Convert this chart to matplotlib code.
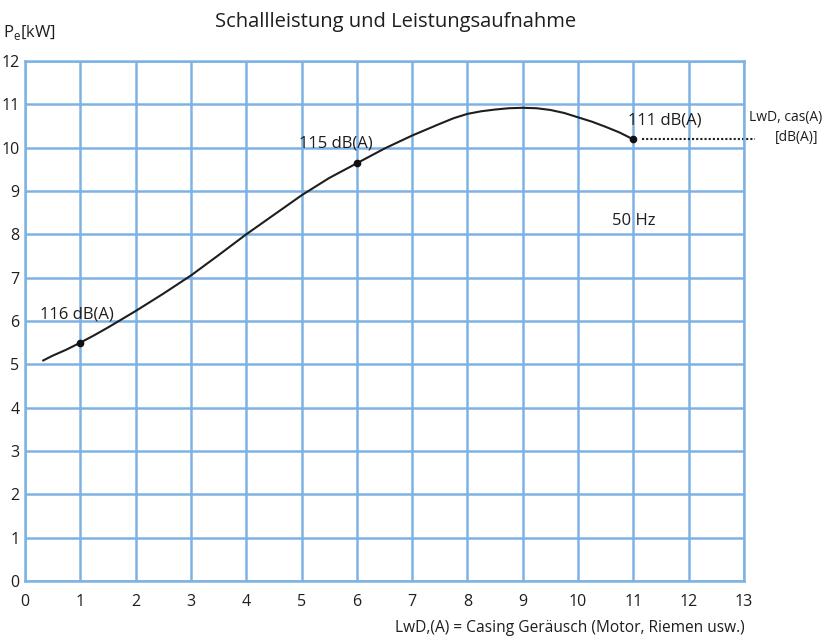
import numpy as np
import matplotlib
matplotlib.use('Agg')
import matplotlib.pyplot as plt

plt.rcParams['font.family'] = ['Open Sans', 'DejaVu Sans']

# curve (Pe in kW)
curve_x = [0.33, 0.5, 0.75, 1, 1.25, 1.5, 2, 2.5, 3, 3.5, 4, 4.5, 5, 5.5, 6,
           6.5, 7, 7.5, 7.75, 8, 8.25, 8.5, 8.75, 9, 9.25, 9.5, 9.75, 10,
           10.25, 10.5, 10.75, 11]
curve_y = [5.09, 5.2, 5.34, 5.5, 5.67, 5.85, 6.23, 6.63, 7.05, 7.52, 8.0,
           8.45, 8.9, 9.3, 9.64, 9.98, 10.28, 10.55, 10.68, 10.78, 10.84,
           10.88, 10.91, 10.92, 10.91, 10.87, 10.8, 10.7, 10.6, 10.48, 10.35,
           10.19]

# marked points and their sound power labels
mark_x = [1, 6, 11]
mark_y = [5.5, 9.64, 10.19]
mark_labels = ['116 dB(A)', '115 dB(A)', '111 dB(A)']
label_pos = [(0.94, 6.14), (5.62, 10.1), (11.57, 10.62)]

grid_blue = '#7eb2e4'
ink = '#1e1e1e'

fig = plt.figure(figsize=(8.23, 6.41), dpi=100)
ax = fig.add_axes([25 / 823, 60 / 641, 719 / 823, 520 / 641])

ax.set_xlim(0, 13)
ax.set_ylim(0, 12)
ax.set_xticks(range(0, 14))
ax.set_yticks(range(0, 13))
ax.grid(True, color=grid_blue, linewidth=1.8)
ax.set_axisbelow(True)
for s in ax.spines.values():
    s.set_color(grid_blue)
    s.set_linewidth(1.8)
ax.tick_params(length=0, labelsize=11.5, colors=ink)
ax.tick_params(axis='x', pad=9)
ax.tick_params(axis='y', pad=4)

ax.plot(curve_x, curve_y, color=ink, linewidth=1.5, solid_joinstyle='round')
ax.plot(mark_x, mark_y, 'o', color='#111111', markersize=4.5)

for (lx, ly), txt in zip(label_pos, mark_labels):
    ax.text(lx, ly, txt, ha='center', va='center', fontsize=12, color=ink)

ax.text(11.0, 8.3, '50 Hz', ha='center', va='center', fontsize=12, color=ink)

# dotted leader to the right margin
ax.plot([11.15, 13.2], [10.19, 10.19], linestyle=(0, (1, 1)), color=ink,
        linewidth=1.5, clip_on=False)
fig.text(822 / 823, 1 - 118 / 641, 'LwD, cas(A)', ha='right', va='center',
         fontsize=10, color=ink)
fig.text(818 / 823, 1 - 138 / 641, '[dB(A)]', ha='right', va='center',
         fontsize=10, color=ink)

fig.text(396 / 823, 1 - 22 / 641, 'Schallleistung und Leistungsaufnahme',
         ha='center', va='center', fontsize=14.5, color=ink)
fig.text(3 / 823, 1 - 32 / 641, r'P$_\mathregular{e}$[kW]', ha='left', va='center',
         fontsize=12, color=ink)
fig.text(745 / 823, 1 - 628 / 641, 'LwD,(A) = Casing Geräusch (Motor, Riemen usw.)',
         ha='right', va='center', fontsize=11.2, color=ink)

fig.savefig('out.png', dpi=100)
